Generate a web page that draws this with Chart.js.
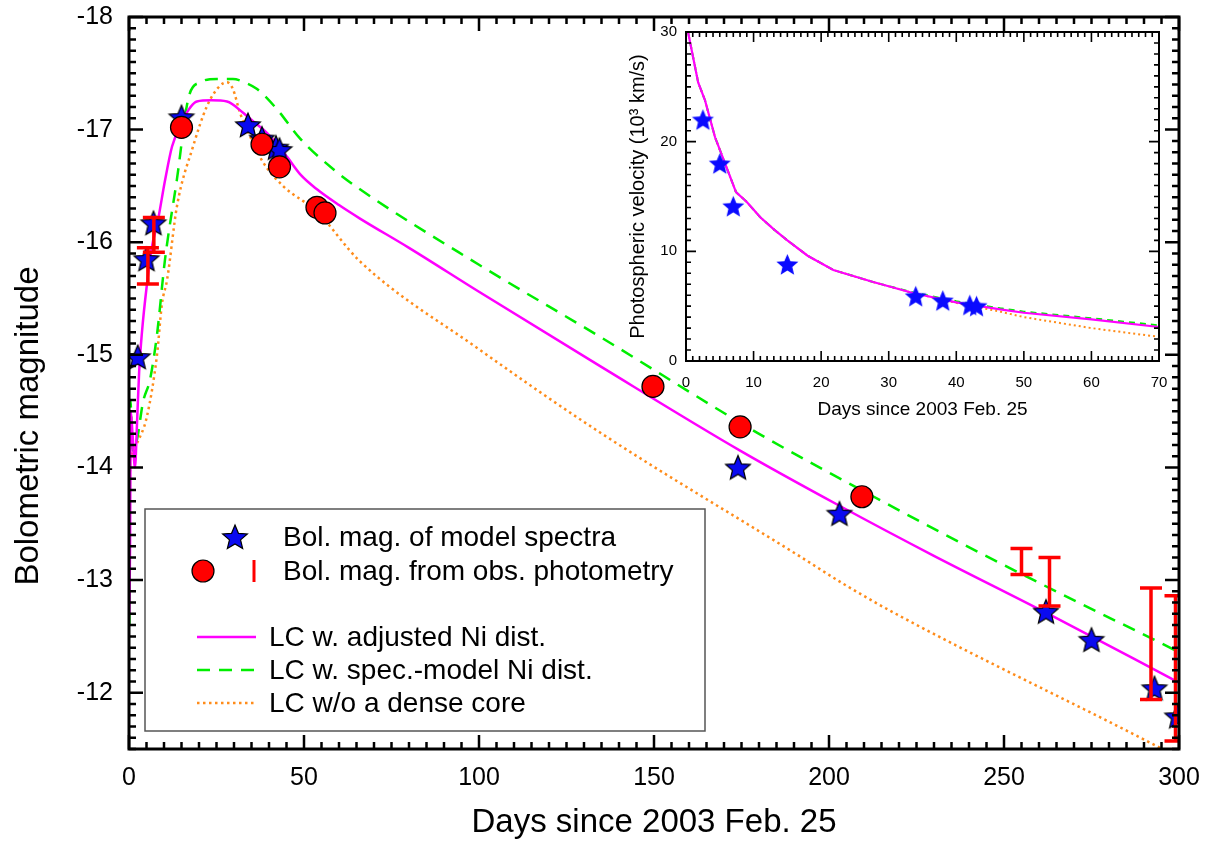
<!DOCTYPE html>
<html>
<head>
<meta charset="utf-8">
<script src="https://cdn.jsdelivr.net/npm/chart.js@4.4.1/dist/chart.umd.min.js"></script>
<style>
  body { margin: 0; background: #fff; }
  #wrap { position: relative; width: 1216px; height: 846px; }
  #main { position: absolute; left: 0; top: 0; }
  #inset { position: absolute; left: 600px; top: 0; }
</style>
</head>
<body>
<div id="wrap">
  <canvas id="main" width="1216" height="846" style="width:1216px;height:846px"></canvas>
  <canvas id="inset" width="616" height="430" style="width:616px;height:430px"></canvas>
</div>
<script>
// ---- main panel data (days since 2003 Feb. 25, bolometric magnitude) ----
const xTicks = [0, 50, 100, 150, 200, 250, 300];
const yTicks = [-18, -17, -16, -15, -14, -13, -12];

const starDays = [2.5, 5, 7, 15, 34, 38, 42, 43, 174, 203, 262, 275, 293, 299.5];
const starMags = [-14.98, -15.85, -16.17, -17.11, -17.04, -16.92, -16.84, -16.82, -14.0, -13.59, -12.72, -12.47, -12.04, -11.79];

const obsDays = [15, 38, 43, 53.7, 56, 149.7, 174.6, 209.4];
const obsMags = [-17.02, -16.87, -16.67, -16.31, -16.26, -14.72, -14.36, -13.74];

const errDays = [5.4, 7.1, 255, 263, 292, 299];
const errBright = [-15.95, -16.22, -13.28, -13.2, -12.93, -12.86];
const errFaint = [-15.63, -15.91, -13.05, -12.77, -11.94, -11.57];

const adjDays = [0.1, 0.3, 0.5, 1.0, 1.7, 2.3, 2.9, 3.7, 5.1, 6.5, 8.3, 10.3, 12.3, 15.4, 19.4, 23.5, 28, 32.6, 36, 39.4, 45.1, 49, 53.7, 60, 66, 80, 100, 134.6, 174.6, 203, 229.7, 262, 300];
const adjMags = [-12.7, -13.3, -14.5, -14.3, -14.0, -14.4, -14.85, -15.2, -15.62, -15.95, -16.2, -16.55, -16.85, -17.09, -17.25, -17.26, -17.25, -17.15, -17.06, -16.97, -16.76, -16.6, -16.47, -16.33, -16.21, -15.95, -15.56, -14.9, -14.15, -13.66, -13.22, -12.71, -12.09];

const specDays = [0.1, 0.4, 1.0, 2.3, 4.0, 6.0, 8.0, 10.3, 13.7, 16.9, 20.3, 25.1, 29.7, 33, 36.6, 42.3, 48.9, 58.3, 66, 100, 134.6, 179.4, 214.6, 245.1, 300];
const specMags = [-12.6, -14.6, -14.15, -14.25, -14.58, -14.78, -15.18, -15.85, -16.56, -17.27, -17.42, -17.45, -17.45, -17.42, -17.36, -17.18, -16.92, -16.65, -16.47, -15.8, -15.16, -14.31, -13.71, -13.21, -12.36];

const coreDays = [0.1, 0.4, 1.0, 2.0, 5.1, 8.0, 9.4, 10.9, 13.7, 18.3, 22.3, 26, 28, 29.7, 31.7, 34.6, 38.3, 44, 53.7, 66, 100, 134.6, 191.7, 205, 220.3, 294.6, 300];
const coreMags = [-13.0, -14.5, -14.1, -14.19, -14.45, -15.0, -15.45, -15.67, -16.32, -16.85, -17.21, -17.39, -17.42, -17.36, -17.15, -16.94, -16.71, -16.5, -16.27, -15.83, -15.05, -14.31, -13.21, -12.95, -12.68, -11.51, -11.42];

// ---- inset data (photospheric velocity, 10^3 km/s) ----
const insetXTicks = [0, 10, 20, 30, 40, 50, 60, 70];
const insetYTicks = [0, 10, 20, 30];
const velStarDays = [2.5, 5, 7, 15, 34, 38, 42, 43];
const velStars = [22, 18, 14.1, 8.8, 5.9, 5.5, 5.1, 5.0];
const velDays = [0.3, 1.8, 2.8, 4.3, 7.4, 9, 11, 13, 15, 18, 21.8, 27.7, 33.6, 40, 46.5, 50, 60, 70];
const velAdj = [30, 25.4, 23.8, 20.4, 15.4, 14.5, 13.1, 12, 11, 9.6, 8.3, 7.2, 6.2, 5.35, 4.7, 4.4, 3.8, 3.1];
const velSpec = [30, 25.4, 23.8, 20.4, 15.4, 14.5, 13.1, 12, 11, 9.6, 8.3, 7.2, 6.25, 5.45, 4.8, 4.5, 3.9, 3.25];
const velCore = [30, 25.4, 23.8, 20.4, 15.4, 14.5, 13.1, 12, 11, 9.6, 8.3, 7.2, 6.2, 5.3, 4.5, 4.0, 3.0, 2.2];

const FONT = "'Liberation Sans', Arial, Helvetica, sans-serif";
Chart.defaults.font.family = FONT;
Chart.defaults.color = '#000';

const pts = (xs, ys) => xs.map((x, i) => ({ x: x, y: ys[i] }));

function makeStar(r, fill, stroke) {
  const c = document.createElement('canvas');
  const s = Math.ceil(r * 2 + 4);
  c.width = c.height = s;
  const g = c.getContext('2d');
  g.translate(s / 2, s / 2 + r * 0.08);
  g.beginPath();
  for (let i = 0; i < 10; i++) {
    const rr = i % 2 ? r * 0.45 : r;
    const a = -Math.PI / 2 + i * Math.PI / 5;
    g.lineTo(rr * Math.cos(a), rr * Math.sin(a));
  }
  g.closePath();
  g.fillStyle = fill;
  g.fill();
  if (stroke) { g.strokeStyle = stroke; g.lineWidth = 1.2; g.stroke(); }
  return c;
}
const bigStar = makeStar(13, '#0a0af0', '#000');
const smallStar = makeStar(11.5, '#0a0aff', null);

// inward ticks on all four sides + frame
function frameTicks(o) {
  return {
    id: 'frameTicks',
    afterDraw(chart) {
      const { ctx, chartArea: a, scales: { x, y } } = chart;
      ctx.save();
      ctx.strokeStyle = '#000';
      ctx.lineWidth = o.tickWidth;
      ctx.beginPath();
      let n = Math.round((x.max - x.min) / o.xMinor);
      for (let i = 0; i <= n; i++) {
        const v = x.min + i * o.xMinor;
        const px = x.getPixelForValue(v);
        const len = Math.abs(v / o.xMajor - Math.round(v / o.xMajor)) < 1e-6 ? o.major : o.minor;
        ctx.moveTo(px, a.bottom); ctx.lineTo(px, a.bottom - len);
        ctx.moveTo(px, a.top); ctx.lineTo(px, a.top + len);
      }
      n = Math.round((y.max - y.min) / o.yMinor);
      for (let i = 0; i <= n; i++) {
        const v = y.min + i * o.yMinor;
        const py = y.getPixelForValue(v);
        const len = Math.abs(v / o.yMajor - Math.round(v / o.yMajor)) < 1e-6 ? o.major : o.minor;
        ctx.moveTo(a.left, py); ctx.lineTo(a.left + len, py);
        ctx.moveTo(a.right, py); ctx.lineTo(a.right - len, py);
      }
      ctx.stroke();
      ctx.lineWidth = o.frameWidth;
      ctx.strokeRect(a.left, a.top, a.right - a.left, a.bottom - a.top);
      ctx.restore();
    }
  };
}

const errorBars = {
  id: 'errorBars',
  afterDatasetsDraw(chart) {
    const { ctx, chartArea: a, scales: { x, y } } = chart;
    ctx.save();
    ctx.beginPath();
    ctx.rect(a.left, a.top, a.right - a.left, a.bottom - a.top);
    ctx.clip();
    ctx.strokeStyle = '#ff0000';
    ctx.lineWidth = 3.5;
    errDays.forEach((d, i) => {
      const px = x.getPixelForValue(d);
      const y1 = y.getPixelForValue(errBright[i]);
      const y2 = y.getPixelForValue(errFaint[i]);
      ctx.beginPath();
      ctx.moveTo(px, y1); ctx.lineTo(px, y2);
      ctx.moveTo(px - 11, y1); ctx.lineTo(px + 11, y1);
      ctx.moveTo(px - 11, y2); ctx.lineTo(px + 11, y2);
      ctx.stroke();
    });
    ctx.restore();
  }
};

const legendBox = {
  id: 'legendBox',
  afterDraw(chart) {
    const ctx = chart.ctx;
    ctx.save();
    ctx.fillStyle = '#fff';
    ctx.fillRect(145, 509, 560, 222);
    ctx.strokeStyle = '#555';
    ctx.lineWidth = 1.5;
    ctx.strokeRect(145, 509, 560, 222);

    ctx.drawImage(bigStar, 235 - bigStar.width / 2, 537 - bigStar.height / 2);
    ctx.beginPath();
    ctx.arc(203, 571, 11, 0, Math.PI * 2);
    ctx.fillStyle = '#ff0000'; ctx.fill();
    ctx.strokeStyle = '#000'; ctx.lineWidth = 1.2; ctx.stroke();
    ctx.beginPath();
    ctx.moveTo(254, 560); ctx.lineTo(254, 582);
    ctx.strokeStyle = '#ff0000'; ctx.lineWidth = 3; ctx.stroke();

    const lines = [
      ['#ff00ff', [], 637],
      ['#00ee00', [13, 9], 670],
      ['#ff8c1a', [2.5, 3.5], 703]
    ];
    lines.forEach(([c, dash, yy]) => {
      ctx.beginPath();
      ctx.setLineDash(dash);
      ctx.strokeStyle = c; ctx.lineWidth = 2.5;
      ctx.moveTo(197, yy); ctx.lineTo(256, yy);
      ctx.stroke();
    });
    ctx.setLineDash([]);

    ctx.fillStyle = '#000';
    ctx.font = '28px ' + FONT;
    ctx.textBaseline = 'middle';
    ctx.fillText('Bol. mag. of model spectra', 283, 538);
    ctx.fillText('Bol. mag. from obs. photometry', 283, 572);
    ctx.fillText('LC w. adjusted Ni dist.', 269, 638);
    ctx.fillText('LC w. spec.-model Ni dist.', 269, 671);
    ctx.fillText('LC w/o a dense core', 269, 704);

    // y-axis title
    ctx.translate(29, 426);
    ctx.rotate(-Math.PI / 2);
    ctx.textAlign = 'center';
    ctx.font = '33px ' + FONT;
    ctx.fillText('Bolometric magnitude', 0, 0);
    ctx.restore();
  }
};

new Chart(document.getElementById('main'), {
  type: 'scatter',
  data: {
    datasets: [
      { label: 'obs', data: pts(obsDays, obsMags), pointStyle: 'circle', pointRadius: 11,
        backgroundColor: '#ff0000', borderColor: '#000', borderWidth: 1.2 },
      { label: 'model', data: pts(starDays, starMags), pointStyle: bigStar, pointRadius: 12 },
      { label: 'adj', data: pts(adjDays, adjMags), showLine: true, pointRadius: 0,
        borderColor: '#ff00ff', borderWidth: 2.5, cubicInterpolationMode: 'monotone' },
      { label: 'spec', data: pts(specDays, specMags), showLine: true, pointRadius: 0,
        borderColor: '#00ee00', borderWidth: 2.5, borderDash: [13, 9], cubicInterpolationMode: 'monotone' },
      { label: 'core', data: pts(coreDays, coreMags), showLine: true, pointRadius: 0,
        borderColor: '#ff8c1a', borderWidth: 2.5, borderDash: [2.5, 3.5], cubicInterpolationMode: 'monotone' }
    ]
  },
  options: {
    responsive: false,
    animation: false,
    layout: { padding: { top: 17, right: 37, left: 0, bottom: 0 } },
    plugins: { legend: { display: false }, tooltip: { enabled: false } },
    scales: {
      x: {
        type: 'linear', min: 0, max: 300,
        afterBuildTicks: s => { s.ticks = xTicks.map(v => ({ value: v })); },
        afterFit: s => { s.height = 97; s.paddingLeft = 0; s.paddingRight = 0; },
        grid: { display: false, drawTicks: false },
        border: { display: false },
        ticks: { font: { size: 25 }, padding: 14, maxRotation: 0 },
        title: { display: true, text: 'Days since 2003 Feb. 25', font: { size: 33 }, padding: { top: 0, bottom: 3 } }
      },
      y: {
        type: 'linear', min: -18, max: -11.5, reverse: true,
        afterBuildTicks: s => { s.ticks = yTicks.map(v => ({ value: v })); },
        afterFit: s => { s.width = 129; s.paddingTop = 0; s.paddingBottom = 0; },
        grid: { display: false, drawTicks: false },
        border: { display: false },
        ticks: { font: { size: 25 }, padding: 16 }
      }
    }
  },
  plugins: [errorBars, frameTicks({ xMinor: 5, xMajor: 50, yMinor: 0.1, yMajor: 1, major: 14, minor: 7, tickWidth: 2.5, frameWidth: 3 }), legendBox]
});

const insetBg = {
  id: 'insetBg',
  beforeDraw(chart) {
    const { ctx, chartArea: a } = chart;
    ctx.save();
    ctx.fillStyle = '#fff';
    ctx.fillRect(a.left, a.top, a.right - a.left, a.bottom - a.top);
    ctx.restore();
  }
};

new Chart(document.getElementById('inset'), {
  type: 'scatter',
  data: {
    datasets: [
      { label: 'vel', data: pts(velStarDays, velStars), pointStyle: smallStar, pointRadius: 11 },
      { label: 'adj', data: pts(velDays, velAdj), showLine: true, pointRadius: 0,
        borderColor: '#ff00ff', borderWidth: 2.2, tension: 0 },
      { label: 'spec', data: pts(velDays, velSpec), showLine: true, pointRadius: 0,
        borderColor: '#00ee00', borderWidth: 2, borderDash: [6, 5], tension: 0 },
      { label: 'core', data: pts(velDays, velCore), showLine: true, pointRadius: 0,
        borderColor: '#ff8c1a', borderWidth: 2, borderDash: [2, 3], tension: 0 }
    ]
  },
  options: {
    responsive: false,
    animation: false,
    layout: { padding: { top: 32, right: 57, left: 0, bottom: 0 } },
    plugins: { legend: { display: false }, tooltip: { enabled: false } },
    scales: {
      x: {
        type: 'linear', min: 0, max: 70,
        afterBuildTicks: s => { s.ticks = insetXTicks.map(v => ({ value: v })); },
        afterFit: s => { s.height = 69; s.paddingLeft = 0; s.paddingRight = 0; },
        grid: { display: false, drawTicks: false },
        border: { display: false },
        ticks: { font: { size: 15 }, padding: 13, maxRotation: 0 },
        title: { display: true, text: 'Days since 2003 Feb. 25', font: { size: 19 }, padding: { top: 0, bottom: 9 } }
      },
      y: {
        type: 'linear', min: 0, max: 30,
        afterBuildTicks: s => { s.ticks = insetYTicks.map(v => ({ value: v })); },
        afterFit: s => { s.width = 86; s.paddingTop = 0; s.paddingBottom = 0; },
        grid: { display: false, drawTicks: false },
        border: { display: false },
        ticks: { font: { size: 15 }, padding: 9 },
        title: { display: true, text: 'Photospheric velocity (10³ km/s)', font: { size: 20 }, padding: { top: 26, bottom: 0 } }
      }
    }
  },
  plugins: [insetBg, frameTicks({ xMinor: 1, xMajor: 10, yMinor: 1, yMajor: 10, major: 10, minor: 5, tickWidth: 1.6, frameWidth: 2 })]
});
</script>
</body>
</html>
